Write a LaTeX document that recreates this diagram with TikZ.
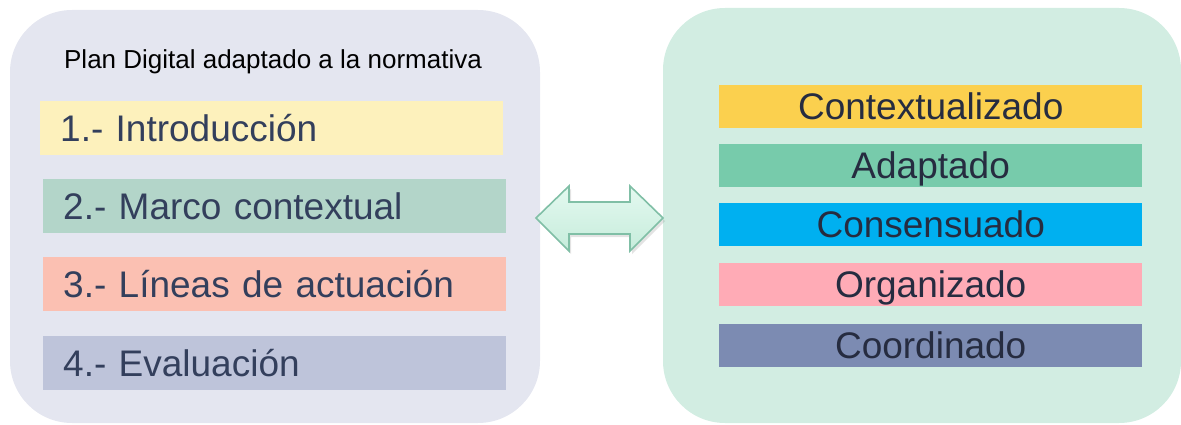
\documentclass[tikz,border=0pt]{standalone}
\usepackage{fontspec}
\setmainfont{Liberation Sans}
\usetikzlibrary{shadows}
\definecolor{lbox}{HTML}{E4E6F0}
\definecolor{rbox}{HTML}{D2EDE2}
\definecolor{lyel}{HTML}{FDF1BC}
\definecolor{lgrn}{HTML}{B3D5C9}
\definecolor{lsal}{HTML}{FBC0B2}
\definecolor{lblu}{HTML}{BEC4DA}
\definecolor{ryel}{HTML}{FBD04E}
\definecolor{rgrn}{HTML}{77CBAB}
\definecolor{rcya}{HTML}{00B0F0}
\definecolor{rpnk}{HTML}{FFABB6}
\definecolor{rblu}{HTML}{7C8BB2}
\definecolor{ltxt}{HTML}{333F5C}
\definecolor{rtxt}{HTML}{262C40}
\definecolor{arrline}{HTML}{80BFA6}
\definecolor{arrtop}{HTML}{E4F9F0}
\definecolor{arrbot}{HTML}{C6ECDB}
\tikzset{
  panel/.style={rounded corners=62pt, inner sep=0pt, draw=none},
  lbar/.style={anchor=north west, minimum width=463pt, minimum height=54pt,
    inner xsep=20pt, inner ysep=0pt, text width=423pt, align=left,
    text height=26.5pt, text depth=0pt, text=ltxt,
    font=\fontsize{37}{44}\selectfont},
  rbar/.style={anchor=north west, minimum width=423pt, minimum height=43pt,
    inner sep=0pt, text width=423pt, align=center,
    text height=26.5pt, text depth=0pt, text=rtxt,
    font=\fontsize{37}{44}\selectfont},
  dblarrow/.style={draw=arrline, line width=1.6pt, line join=miter,
    top color=arrtop, bottom color=arrbot,
    drop shadow={opacity=0.22, shadow xshift=2pt, shadow yshift=-3pt}}
}
\begin{document}
\begin{tikzpicture}[x=1pt, y=-1pt]
\useasboundingbox (0,0) rectangle (1181,425);
% panels
\path[panel, fill=lbox] (10,10) rectangle (540,423);
\path[panel, fill=rbox] (663,8) rectangle (1181,423);
\coordinate (Lpanel) at (540,218);
\coordinate (Rpanel) at (663,218);
% title
\node[anchor=base, font=\fontsize{26}{31}\selectfont, text=black, inner sep=0pt] (title) at (273,69) {Plan Digital adaptado a la normativa};
% left bars
\node[lbar, fill=lyel] (l1) at (40,101) {1.- Introducción};
\node[lbar, fill=lgrn] (l2) at (43,179) {2.- Marco contextual};
\node[lbar, fill=lsal] (l3) at (43,257) {3.- Líneas de actuación};
\node[lbar, fill=lblu] (l4) at (43,336) {4.- Evaluación};
% right bars
\node[rbar, fill=ryel] (r1) at (719,85) {Contextualizado};
\node[rbar, fill=rgrn] (r2) at (719,144) {Adaptado};
\node[rbar, fill=rcya] (r3) at (719,203) {Consensuado};
\node[rbar, fill=rpnk] (r4) at (719,263) {Organizado};
\node[rbar, fill=rblu] (r5) at (719,324) {Coordinado};
% double arrow
\draw[dblarrow] (536,218) -- (569,186) -- (569,202) -- (630,202) -- (630,186)
  -- (663,218) -- (630,251) -- (630,234) -- (569,234) -- (569,251) -- cycle;
\end{tikzpicture}
\end{document}
